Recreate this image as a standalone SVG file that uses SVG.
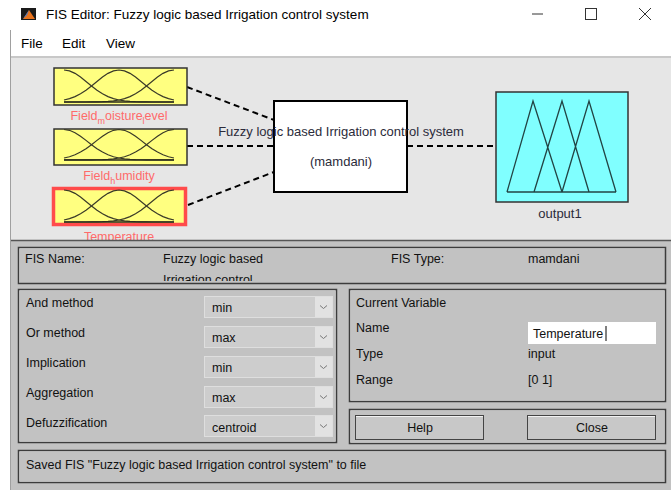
<svg xmlns="http://www.w3.org/2000/svg" xmlns:xlink="http://www.w3.org/1999/xlink" width="671" height="490" viewBox="0 0 671 490">
<style>
text{font-family:"Liberation Sans",Arial,sans-serif;}
.win{font-size:13.5px;fill:#000;}
.lbl{font-size:12.5px;fill:#ff6a6a;}
.dk{font-size:13px;fill:#2b2b3a;}
.lp{font-size:12.5px;fill:#111;}
.frame{fill:none;stroke:#3c3c3c;stroke-width:1.5;}
.frin{fill:none;stroke:#e4e4e4;stroke-width:1;}
.mfbox{fill:#ffff80;stroke:#333;stroke-width:1.5;}
.mf{fill:none;stroke:#3a3a28;stroke-width:1.2;}
.conn{fill:none;stroke:#000;stroke-width:2;stroke-dasharray:6,4;}
.dd{fill:#cdcdcd;stroke:#dedede;stroke-width:1;}
.ddb{fill:#e2e2e2;}
.chev{fill:none;stroke:#777;stroke-width:1;}
.btn{fill:#c8c8c8;stroke:#444;stroke-width:1;}
</style>
<defs>
<g id="gauss">
<path class="mf" d="M0,0 L5.5,0.87 L11,3.36 L16.5,7.07 L22,11.47 L27.5,16 L33,20.21 L38.5,23.78 L44,26.58 L49.5,28.61 L55,30 L60.5,30.88 L66,31.41 L71.5,31.71 L77,31.86 L82.5,31.94 L88,32 L110,32"/>
<path class="mf" d="M0,30 L5.5,28.61 L11,26.58 L16.5,23.78 L22,20.21 L27.5,16 L33,11.47 L38.5,7.07 L44,3.36 L49.5,0.87 L55,0 L60.5,0.87 L66,3.36 L71.5,7.07 L77,11.47 L82.5,16 L88,20.21 L93.5,23.78 L99,26.58 L104.5,28.61 L110,30"/>
<path class="mf" d="M110,0 L104.5,0.87 L99,3.36 L93.5,7.07 L88,11.47 L82.5,16 L77,20.21 L71.5,23.78 L66,26.58 L60.5,28.61 L55,30 L49.5,30.88 L44,31.41 L38.5,31.71 L33,31.86 L27.5,31.94 L22,32 L0,32"/>
<path d="M0,32 H110" fill="none" stroke="#2a2a1a" stroke-width="1.6"/>
</g>
<g id="chevron"><path class="chev" d="M-3.5,-1.5 L0,1.5 L3.5,-1.5"/></g>
<clipPath id="nameclip"><rect x="19" y="248" width="646" height="33"/></clipPath>
</defs>

<!-- window background -->
<rect x="0" y="0" width="671" height="490" fill="#ffffff"/>
<!-- title bar -->
<g id="titlebar">
<rect x="21" y="8" width="15" height="12" fill="#1a1a1a"/>
<path d="M23,19 L29,10 L31,13 L35,19 Z" fill="#e8731c"/>
<path d="M23,19 L27,15 L29,10 Z" fill="#3d7bd0"/>
<text class="win" x="46" y="19">FIS Editor: Fuzzy logic based Irrigation control system</text>
<line x1="532" y1="14" x2="543" y2="14" stroke="#333" stroke-width="1"/>
<rect x="585.5" y="8.5" width="11" height="11" fill="none" stroke="#333" stroke-width="1"/>
<path d="M639,8 L651,20 M651,8 L639,20" stroke="#333" stroke-width="1"/>
</g>
<g id="menubar">
<text class="win" x="21" y="48">File</text>
<text class="win" x="62" y="48">Edit</text>
<text class="win" x="106" y="48">View</text>
<line x1="10" y1="57" x2="671" y2="57" stroke="#c8c8c8" stroke-width="2"/>
</g>
<line x1="10.5" y1="30" x2="10.5" y2="490" stroke="#a0a0a0" stroke-width="1"/>

<!-- upper panel -->
<rect x="11" y="58" width="660" height="182" fill="#e6e6e6"/>

<g id="connectors">
<line class="conn" x1="187" y1="87" x2="274" y2="120"/>
<line class="conn" x1="187" y1="146" x2="274" y2="146"/>
<line class="conn" x1="188" y1="205" x2="274" y2="172"/>
<line class="conn" x1="407" y1="146" x2="496" y2="146"/>
</g>

<g id="input1">
<rect class="mfbox" x="54" y="68" width="133" height="37"/>
<use xlink:href="#gauss" transform="translate(64,70)"/>
<text class="lbl" x="119" y="120" text-anchor="middle">Field<tspan font-size="9" dy="4">m</tspan><tspan dy="-4">oisture</tspan><tspan font-size="9" dy="4">l</tspan><tspan dy="-4">evel</tspan></text>
</g>
<g id="input2">
<rect class="mfbox" x="54" y="129" width="133" height="36"/>
<use xlink:href="#gauss" transform="translate(64,129.5) scale(1,0.95)"/>
<text class="lbl" x="119" y="180" text-anchor="middle">Field<tspan font-size="9" dy="4">h</tspan><tspan dy="-4">umidity</tspan></text>
</g>
<g id="input3">
<text class="lbl" x="119" y="241" text-anchor="middle">Temperature</text>
<rect x="53.5" y="188.5" width="132" height="36" fill="#ffff80" stroke="#ff4b4b" stroke-width="3.5"/>
<use xlink:href="#gauss" transform="translate(64,190)"/>
</g>

<g id="system">
<rect x="274" y="101" width="133" height="91" fill="#fff" stroke="#000" stroke-width="2"/>
<text class="dk" x="341" y="136" text-anchor="middle">Fuzzy logic based Irrigation control system</text>
<text class="dk" x="341" y="166" text-anchor="middle">(mamdani)</text>
</g>

<g id="output1">
<rect x="496" y="92" width="132" height="110" fill="#80ffff" stroke="#333" stroke-width="1.5"/>
<path d="M507,192 L533,101 L562,192 M534,192 L562,101 L589,192 M562,192 L589,101 L616,192 M507,192 H616" fill="none" stroke="#224444" stroke-width="1.3"/>
<text class="dk" x="560" y="218" text-anchor="middle">output1</text>
</g>

<!-- lower panel -->
<g id="lowerpanel">
<rect x="11" y="240" width="660" height="250" fill="#c2c2c2"/>
<line x1="11" y1="240.5" x2="671" y2="240.5" stroke="#555" stroke-width="1.5"/>

<g id="fisname">
<rect class="frin" x="19.5" y="248.5" width="646" height="35"/>
<rect class="frame" x="18.5" y="247.5" width="647" height="36"/>
<text class="lp" x="25" y="263">FIS Name:</text>
<text class="lp" x="163" y="263">Fuzzy logic based</text>
<text class="lp" x="163" y="283.5" clip-path="url(#nameclip)">Irrigation control</text>
<text class="lp" x="391" y="263">FIS Type:</text>
<text class="lp" x="528" y="263">mamdani</text>
</g>

<g id="methods">
<rect class="frin" x="19.5" y="290.5" width="316" height="151"/>
<rect class="frame" x="18.5" y="289.5" width="318" height="153"/>
<text class="lp" x="26" y="307">And method</text>
<text class="lp" x="26" y="337">Or method</text>
<text class="lp" x="26" y="367">Implication</text>
<text class="lp" x="26" y="397">Aggregation</text>
<text class="lp" x="26" y="427">Defuzzification</text>
<rect class="dd" x="204.5" y="296.5" width="128" height="21"/>
<rect class="ddb" x="315" y="297" width="17" height="20"/>
<use xlink:href="#chevron" x="323.5" y="307"/>
<text class="lp" x="212" y="312">min</text>
<rect class="dd" x="204.5" y="326.5" width="128" height="21"/>
<rect class="ddb" x="315" y="327" width="17" height="20"/>
<use xlink:href="#chevron" x="323.5" y="337"/>
<text class="lp" x="212" y="342">max</text>
<rect class="dd" x="204.5" y="356.5" width="128" height="21"/>
<rect class="ddb" x="315" y="357" width="17" height="20"/>
<use xlink:href="#chevron" x="323.5" y="367"/>
<text class="lp" x="212" y="372">min</text>
<rect class="dd" x="204.5" y="386.5" width="128" height="21"/>
<rect class="ddb" x="315" y="387" width="17" height="20"/>
<use xlink:href="#chevron" x="323.5" y="397"/>
<text class="lp" x="212" y="402">max</text>
<rect class="dd" x="204.5" y="415.5" width="128" height="21"/>
<rect class="ddb" x="315" y="416" width="17" height="20"/>
<use xlink:href="#chevron" x="323.5" y="426"/>
<text class="lp" x="212" y="432">centroid</text>
</g>

<g id="currentvar">
<rect class="frin" x="350.5" y="290.5" width="314" height="110"/>
<rect class="frame" x="349.5" y="289.5" width="316" height="112"/>
<text class="lp" x="356" y="307">Current Variable</text>
<text class="lp" x="356" y="332">Name</text>
<rect x="528" y="322" width="128" height="22" fill="#fff"/>
<text class="lp" x="533" y="338">Temperature</text>
<line x1="606" y1="326" x2="606" y2="341" stroke="#000" stroke-width="1"/>
<text class="lp" x="356" y="358">Type</text>
<text class="lp" x="528" y="358">input</text>
<text class="lp" x="356" y="384">Range</text>
<text class="lp" x="528" y="384">[0 1]</text>
</g>

<g id="buttons">
<rect class="frin" x="350.5" y="410.5" width="314" height="32"/>
<rect class="frame" x="349.5" y="409.5" width="316" height="34"/>
<g id="help">
<rect class="btn" x="355.5" y="415.5" width="128" height="24"/>
<line x1="356" y1="416.5" x2="483" y2="416.5" stroke="#f2f2f2"/>
<text class="lp" x="420" y="432" text-anchor="middle">Help</text>
</g>
<g id="close">
<rect class="btn" x="527.5" y="415.5" width="128" height="24"/>
<line x1="528" y1="416.5" x2="655" y2="416.5" stroke="#f2f2f2"/>
<text class="lp" x="592" y="432" text-anchor="middle">Close</text>
</g>
</g>

<g id="status">
<rect class="frin" x="19.5" y="451.5" width="646" height="30"/>
<rect class="frame" x="18.5" y="450.5" width="647" height="32"/>
<text class="lp" x="26" y="469" font-size="12.5">Saved FIS "Fuzzy logic based Irrigation control system" to file</text>
</g>
</g>
</svg>
